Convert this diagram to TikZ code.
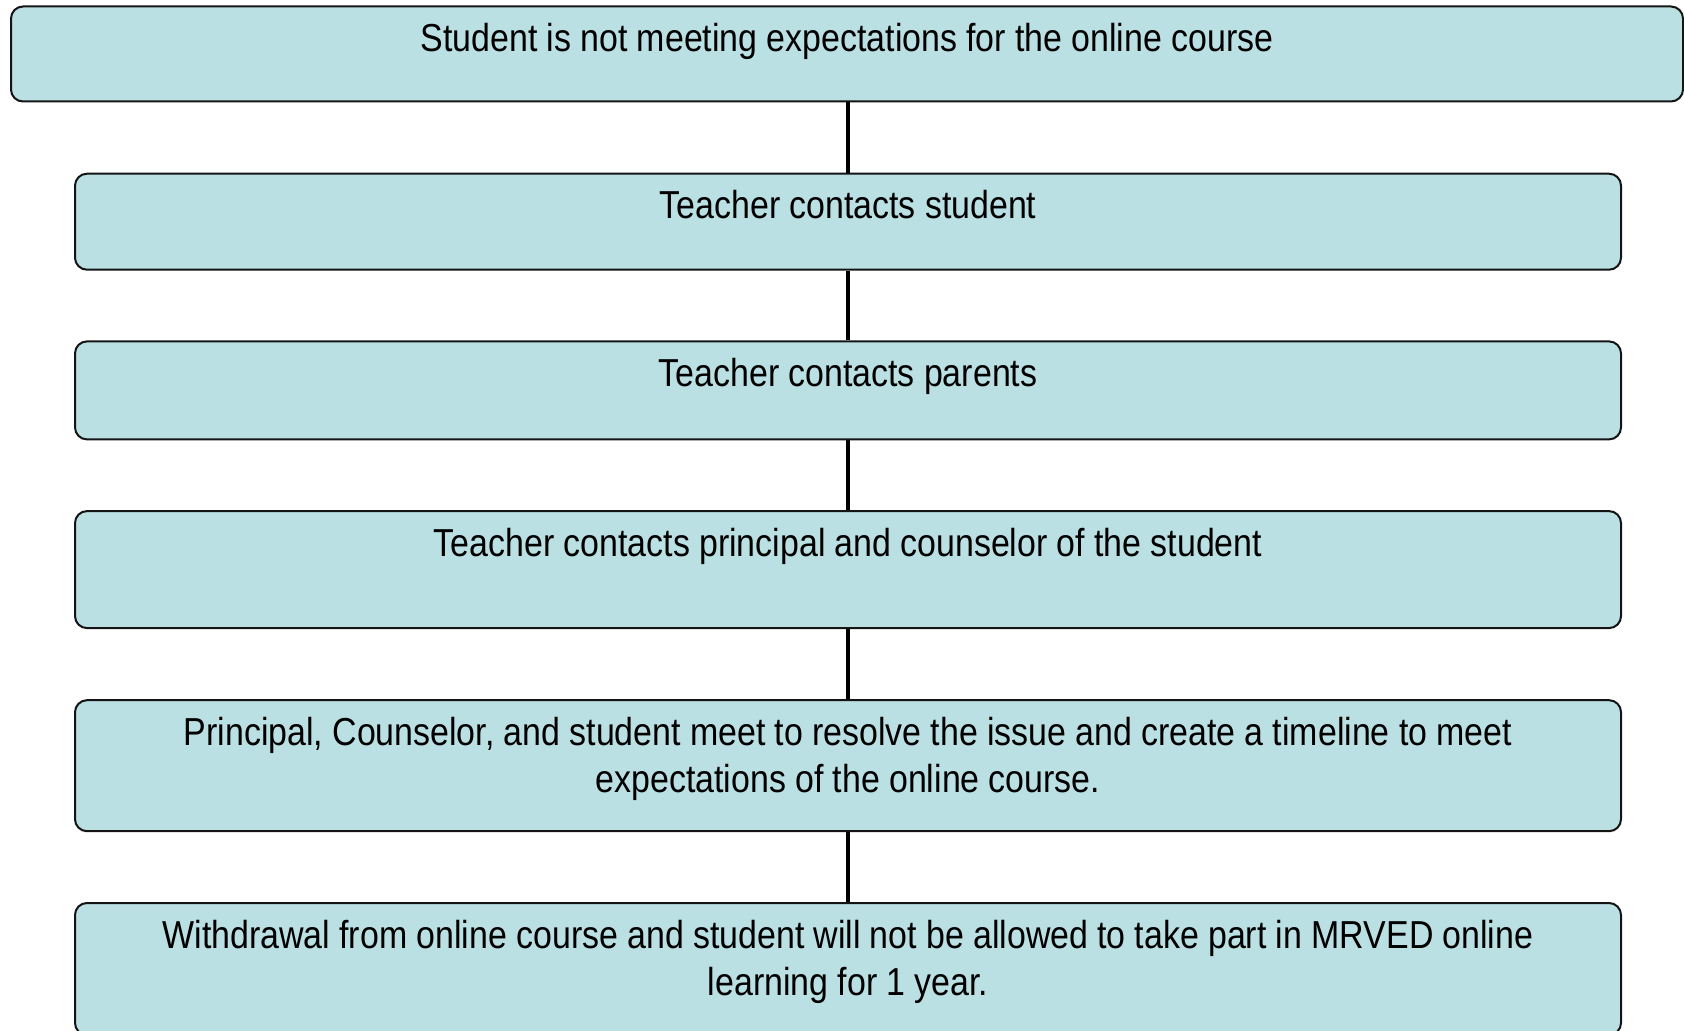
\documentclass[tikz,border=0pt]{standalone}
\usepackage{fontspec}
\setmainfont{Liberation Sans}[FakeStretch=0.87]
\definecolor{boxfill}{RGB}{186,224,227}
\definecolor{boxline}{RGB}{20,20,20}
\tikzset{
  stepbox/.style={draw=boxline, line width=1pt, fill=boxfill, rounded corners=6pt,
    anchor=north, inner sep=0pt, align=center, text height=22.5pt,
    font=\fontsize{19.5pt}{23.5pt}\selectfont,
    execute at begin node={\spaceskip=4.6pt\relax}},
  conn/.style={draw=black, line width=2.4pt}
}
\begin{document}
\begin{tikzpicture}[x=0.5pt,y=-0.5pt]
\useasboundingbox (0,0) rectangle (1684,1031);
\begin{scope}
\clip (0,0) rectangle (1684,1031);
\node[stepbox, text width=836pt, text depth=47.5pt-22.5pt] (b1) at (847,5.5)
  {Student is not meeting expectations for the online course};
\node[stepbox, text width=773pt, text depth=48pt-22.5pt] (b2) at (848,172.7)
  {Teacher contacts student};
\node[stepbox, text width=773pt, text depth=49pt-22.5pt] (b3) at (848,340.4)
  {Teacher contacts parents};
\node[stepbox, text width=773pt, text depth=58.5pt-22.5pt] (b4) at (848,510.1)
  {Teacher contacts principal and counselor of the student};
\node[stepbox, text width=773pt, text depth=65.5pt-22.5pt] (b5) at (848,699.2)
  {Principal, Counselor, and student meet to resolve the issue and create a timeline to meet\\
   expectations of the online course.};
\node[stepbox, text width=773pt, text depth=66pt-22.5pt] (b6) at (848,902)
  {Withdrawal from online course and student will not be allowed to take part in MRVED online\\
   learning for 1 year.};
\end{scope}
\draw[conn] (b2.north |- b1.south) -- (b2.north);
\draw[conn] (b2.south) -- (b3.north);
\draw[conn] (b3.south) -- (b4.north);
\draw[conn] (b4.south) -- (b5.north);
\draw[conn] (b5.south) -- (b6.north);
\end{tikzpicture}
\end{document}
